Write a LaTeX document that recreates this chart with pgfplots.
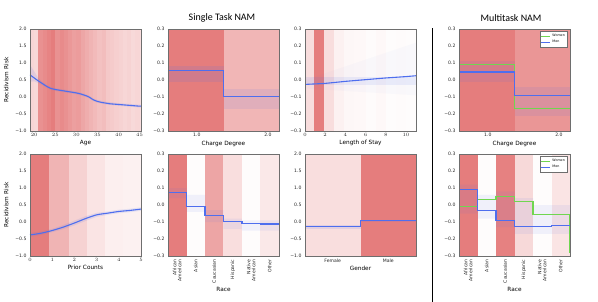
\documentclass[border=0pt]{standalone}
\usepackage{fontspec}
\setmainfont{DejaVu Sans}
\newfontfamily\titlefont{Carlito}
\usepackage{pgfplots}
\pgfplotsset{compat=1.18}
\definecolor{nblue}{RGB}{78,110,238}
\definecolor{ngreen}{RGB}{112,214,80}
\definecolor{nred}{RGB}{228,118,118}
\definecolor{nframe}{RGB}{110,110,110}
\newcommand{\bnd}[3]{\addplot[draw=none, fill=nred!#3!white, forget plot] coordinates {(#1,\yl)(#2,\yl)(#2,\yh)(#1,\yh)} -- cycle;}
\pgfplotsset{
  nam/.style={
    scale only axis, width=111bp, height=102bp, anchor=south west,
    axis on top,
    axis line style={nframe, line width=0.5pt},
    tick style={draw=none},
    ticklabel style={font=\fontsize{4.6}{5}\selectfont, text=black!85},
    label style={font=\fontsize{5.8}{6.5}\selectfont},
    xticklabel style={yshift=1bp},
    xlabel style={yshift=3bp},
  },
  y2/.style={ymin=-1, ymax=2, ytick={-1,-0.5,0,0.5,1,1.5,2}, yticklabels={−1.0,−0.5,0.0,0.5,1.0,1.5,2.0}},
  y03/.style={ymin=-0.3, ymax=0.3, ytick={-0.3,-0.2,-0.1,0,0.1,0.2,0.3}, yticklabels={−0.3,−0.2,−0.1,0.0,0.1,0.2,0.3}},
  unc/.style={draw=none, fill=nblue, fill opacity=0.13, forget plot},
  bline/.style={nblue, line width=1.1pt},
  gline/.style={ngreen, line width=1.1pt},
  race/.style={xmin=0, xmax=6, xtick={0.5,1.5,2.5,3.5,4.5,5.5},
    xticklabels={{African\\American},Asian,Caucasian,Hispanic,{Native\\American},Other},
    xticklabel style={rotate=90, anchor=east, align=right, yshift=0bp, xshift=-1bp},
    xlabel=Race},
  leg/.style={legend style={at={(0.98,0.98)}, anchor=north east, draw=nframe, fill=white,
    font=\fontsize{3.3}{3.6}\selectfont, inner sep=0.8pt, row sep=-1.5pt, cells={anchor=west}, line width=0.3pt},
    legend image code/.code={\draw[##1, line width=0.8pt] (0bp,0bp) -- (9bp,0bp);}},
}
\begin{document}
\begin{tikzpicture}[x=1bp,y=1bp]
\useasboundingbox (0bp,0bp) rectangle (598bp,302bp);

% ---------------- Age ----------------
\def\yl{-1}\def\yh{2}
\begin{axis}[nam, y2, at={(30bp,171bp)}, xmin=19, xmax=45.33, xtick={20,25,30,35,40,45}, xlabel={Age}, ylabel={Recidivism Risk}]
\bnd{19}{20}{30}\bnd{20}{21}{28}\bnd{21}{22}{80}\bnd{22}{23}{85}\bnd{23}{24}{90}
\bnd{24}{25}{95}\bnd{25}{26}{80}\bnd{26}{27}{85}\bnd{27}{28}{80}\bnd{28}{29}{75}
\bnd{29}{30}{70}\bnd{30}{31}{72}\bnd{31}{32}{65}\bnd{32}{33}{60}\bnd{33}{34}{55}
\bnd{34}{35}{50}\bnd{35}{36}{45}\bnd{36}{37}{48}\bnd{37}{38}{40}\bnd{38}{39}{38}
\bnd{39}{40}{35}\bnd{40}{41}{33}\bnd{41}{42}{30}\bnd{42}{43}{32}\bnd{43}{44}{28}
\bnd{44}{45}{30}\bnd{45}{45.33}{25}
\addplot[unc] coordinates {(19,0.95)(20,0.75)(21,0.55)(22,0.44)(23,0.35)(24,0.29)(25,0.26)(27,0.22)(30,0.16)(32,0.09)(33,0.04)(34,-0.04)(35,-0.09)(37,-0.14)(40,-0.18)(45.33,-0.23)
(45.33,-0.31)(40,-0.26)(37,-0.22)(35,-0.17)(34,-0.12)(33,-0.04)(32,0.01)(30,0.08)(27,0.14)(25,0.18)(24,0.21)(23,0.27)(22,0.34)(21,0.41)(20,0.46)(19,0.45)} -- cycle;
\addplot[bline, smooth] coordinates {(19,0.65)(20,0.56)(21,0.47)(22,0.39)(23,0.31)(24,0.25)(25,0.22)(26,0.20)(27,0.18)(28,0.16)(29,0.14)(30,0.12)(31,0.09)(32,0.05)(33,0.0)(34,-0.08)(35,-0.13)(36,-0.16)(37,-0.18)(38,-0.20)(39,-0.21)(40,-0.22)(41,-0.23)(42,-0.24)(43,-0.25)(44,-0.26)(45,-0.27)(45.33,-0.27)};
\end{axis}

% ---------------- Charge Degree (single) ----------------
\def\yl{-0.3}\def\yh{0.3}
\begin{axis}[nam, y03, at={(168bp,171bp)}, xmin=0, xmax=2, xtick={0.52,1.8}, xticklabels={1.0,2.0}, xlabel={Charge Degree}]
\bnd{0}{1}{95}\bnd{1}{2}{53}
\addplot[unc] coordinates {(0,-0.01)(1,-0.01)(1,0.085)(0,0.085)} -- cycle;
\addplot[unc, fill opacity=0.1] coordinates {(1,-0.17)(2,-0.17)(2,-0.05)(1,-0.05)} -- cycle;
\addplot[bline, const plot] coordinates {(0,0.055)(1,-0.097)(2,-0.097)};
\end{axis}

% ---------------- Length of Stay ----------------
\begin{axis}[nam, y03, at={(305bp,171bp)}, xmin=0, xmax=11, xtick={0,2,4,6,8,10}, xlabel={Length of Stay}]
\bnd{0}{0.9}{25}\bnd{0.9}{1.9}{95}\bnd{1.9}{2.9}{25}\bnd{2.9}{3.9}{10}\bnd{3.9}{4.9}{6}
\bnd{4.9}{6}{5}\bnd{6}{7}{3}\bnd{7}{8}{5}\bnd{8}{9}{2}\bnd{9}{10}{3}\bnd{10}{11}{2}
\addplot[unc, fill opacity=0.1] coordinates {(0,-0.03)(11,-0.03)(11,0.02)(0,0.02)} -- cycle;
\addplot[unc, fill opacity=0.025] coordinates {(0,-0.05)(11,-0.09)(11,0.22)(0,0.0)} -- cycle;
\addplot[bline] coordinates {(0,-0.026)(1,-0.023)(2,-0.02)(3,-0.014)(4,-0.008)(5,-0.003)(6,0.002)(7,0.007)(8,0.012)(9,0.016)(10,0.02)(11,0.025)};
\end{axis}

% ---------------- Charge Degree (multitask) ----------------
\begin{axis}[nam, y03, leg, at={(459bp,171bp)}, xmin=0, xmax=2, xtick={0.52,1.8}, xticklabels={1.0,2.0}, xlabel={Charge Degree}]
\bnd{0}{1}{95}\bnd{1}{2}{77}
\addplot[unc, fill opacity=0.1] coordinates {(0,-0.01)(1,-0.01)(1,0.11)(0,0.11)} -- cycle;
\addplot[unc, fill opacity=0.1] coordinates {(1,-0.21)(2,-0.21)(2,-0.04)(1,-0.04)} -- cycle;
\addplot[gline, const plot] coordinates {(0,0.089)(1,-0.165)(2,-0.165)};
\addlegendentry{Women}
\addplot[bline, const plot] coordinates {(0,0.047)(1,-0.093)(2,-0.093)};
\addlegendentry{Men}
\end{axis}

% ---------------- Prior Counts ----------------
\def\yl{-1}\def\yh{2}
\begin{axis}[nam, y2, at={(30bp,46bp)}, xmin=0, xmax=5, xtick={0,1,2,3,4,5}, xlabel={Prior Counts}, ylabel={Recidivism Risk}]
\bnd{0}{0.86}{95}\bnd{0.86}{1.74}{55}\bnd{1.74}{2.55}{33}\bnd{2.55}{3.4}{20}\bnd{3.4}{4.2}{12}\bnd{4.2}{5}{10}
\addplot[unc] coordinates {(0,-0.32)(0.5,-0.28)(1,-0.2)(1.5,-0.09)(2,0.04)(2.5,0.17)(3,0.27)(3.5,0.31)(4,0.36)(4.5,0.39)(5,0.43)
(5,0.33)(4.5,0.29)(4,0.26)(3.5,0.21)(3,0.15)(2.5,0.03)(2,-0.10)(1.5,-0.21)(1,-0.30)(0.5,-0.38)(0,-0.44)} -- cycle;
\addplot[bline, smooth] coordinates {(0,-0.38)(0.5,-0.33)(1,-0.25)(1.5,-0.15)(2,-0.03)(2.5,0.10)(3,0.21)(3.5,0.26)(4,0.31)(4.5,0.34)(5,0.38)};
\end{axis}

% ---------------- Race (single) ----------------
\def\yl{-0.3}\def\yh{0.3}
\begin{axis}[nam, y03, race, at={(168bp,46bp)}]
\bnd{0}{1}{95}\bnd{1}{2}{2}\bnd{2}{3}{66}\bnd{3}{4}{24}\bnd{4}{5}{2}\bnd{5}{6}{17}
\addplot[unc, fill opacity=0.08] coordinates {(0,0.1)(1,0.1)(1,0.06)(2,0.06)(2,-0.03)(3,-0.03)(3,-0.08)(4,-0.08)(4,-0.09)(6,-0.09)(6,-0.15)(4,-0.15)(4,-0.14)(3,-0.14)(3,-0.1)(2,-0.1)(2,-0.04)(1,-0.04)(1,0.04)(0,0.04)} -- cycle;
\addplot[bline, const plot] coordinates {(0,0.072)(1,-0.007)(2,-0.064)(3,-0.096)(4,-0.108)(5,-0.112)(6,-0.112)};
\end{axis}

% ---------------- Gender ----------------
\def\yl{-1}\def\yh{2}
\begin{axis}[nam, y2, at={(305bp,46bp)}, xmin=0, xmax=2, xtick={0.5,1.5}, xticklabels={Female,Male}, xlabel={Gender}]
\bnd{0}{1}{24}\bnd{1}{2}{95}
\addplot[unc] coordinates {(0,-0.2)(1,-0.2)(1,-0.1)(0,-0.1)} -- cycle;
\addplot[unc] coordinates {(1,0.0)(2,0.0)(2,0.07)(1,0.07)} -- cycle;
\addplot[bline, const plot] coordinates {(0,-0.14)(1,0.04)(2,0.04)};
\end{axis}

% ---------------- Race (multitask) ----------------
\def\yl{-0.3}\def\yh{0.3}
\begin{axis}[nam, y03, race, leg, at={(459bp,46bp)}]
\bnd{0}{1}{95}\bnd{1}{2}{2}\bnd{2}{3}{92}\bnd{3}{4}{28}\bnd{4}{5}{2}\bnd{5}{6}{20}
\addplot[unc, fill opacity=0.08] coordinates {(0,-0.05)(1,-0.05)(1,-0.08)(2,-0.08)(2,-0.13)(3,-0.13)(3,-0.17)(6,-0.17)(6,-0.0)(4,0.0)(4,0.04)(3,0.04)(3,0.08)(2,0.08)(2,0.06)(1,0.06)(1,0.12)(0,0.12)} -- cycle;
\addplot[gline, const plot] coordinates {(0,-0.009)(1,0.03)(2,0.052)(3,0.019)(4,-0.054)(5,-0.054)(6,-0.28)};
\addlegendentry{Women}
\addplot[bline, const plot] coordinates {(0,0.09)(1,-0.034)(2,-0.09)(3,-0.129)(4,-0.125)(5,-0.119)(6,-0.119)};
\addlegendentry{Men}
\end{axis}

\node[font=\titlefont\fontsize{10}{12}\selectfont] at (222bp,284bp) {Single Task NAM};
\node[font=\titlefont\fontsize{10}{12}\selectfont] at (511bp,284bp) {Multitask NAM};
\draw[line width=0.6pt] (432bp,0bp) -- (432bp,274bp);
\end{tikzpicture}
\end{document}
